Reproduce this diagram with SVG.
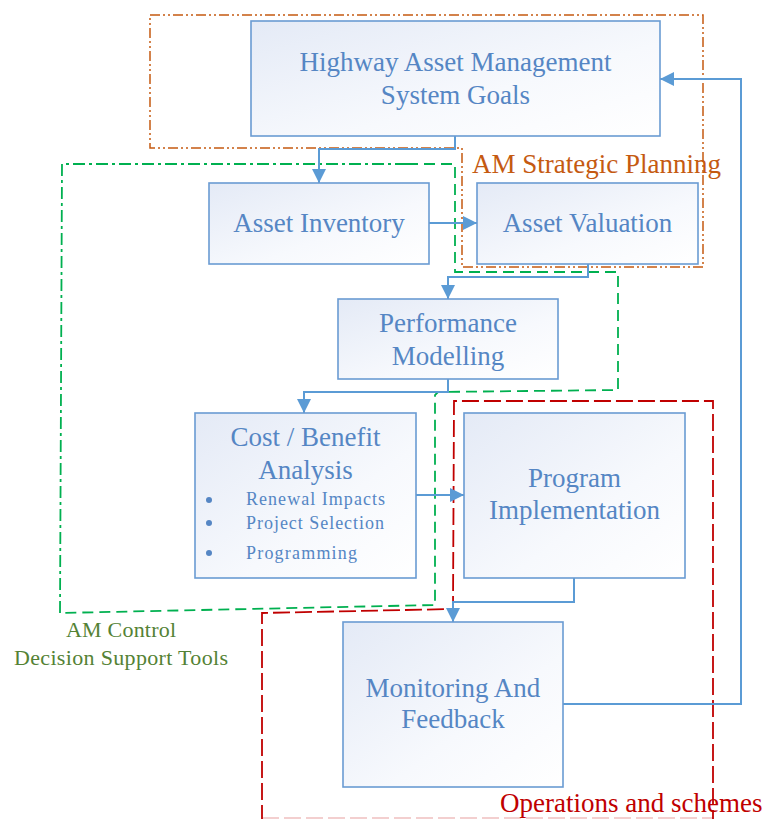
<svg xmlns="http://www.w3.org/2000/svg" width="768" height="819" viewBox="0 0 768 819">
<defs>
<linearGradient id="g" x1="0" y1="0" x2="1" y2="1">
<stop offset="0" stop-color="#E4EAF6"/>
<stop offset="0.6" stop-color="#F7F9FD"/>
<stop offset="1" stop-color="#FFFFFF"/>
</linearGradient>
<marker id="ah" markerUnits="userSpaceOnUse" markerWidth="15" markerHeight="15" refX="14" refY="7" orient="auto">
<path d="M0,0 L14,7 L0,14 z" fill="#5B9BD5"/>
</marker>
<style>
.box{fill:url(#g);stroke:#6A9BD3;stroke-width:1.6}
.t{font-family:"Liberation Serif","Times New Roman",serif;font-size:27px;fill:#5586C4;text-anchor:middle}
.s{font-family:"Liberation Serif","Times New Roman",serif;font-size:18px;fill:#5586C4}
.c{fill:none;stroke:#5B9BD5;stroke-width:2;marker-end:url(#ah)}
.dot{fill:#5586C4}
</style>
</defs>
<rect width="768" height="819" fill="#FFFFFF"/>

<g id="groups">
<path d="M150,15 H703 V267 H462 V148 H150 Z" fill="none" stroke="#C55A11" stroke-width="1.5" stroke-dasharray="10 3 2 3 2 3"/>
<path d="M407,164 H62 L60,613" fill="none" stroke="#00B050" stroke-width="1.8" stroke-dasharray="12 4 3 4"/>
<path d="M407,164 H455 V272 H618 V390 L438,392 L435,395 V605 L60,613" fill="none" stroke="#00B050" stroke-width="1.8" stroke-dasharray="11 6"/>
<path d="M262,822 V613 L453,609 L454,401 H713 V822" fill="none" stroke="#C00000" stroke-width="1.8" stroke-dasharray="17 5"/>
<path d="M262,818 H713" fill="none" stroke="#C00000" stroke-width="1.5" stroke-opacity="0.25" stroke-dasharray="17 5"/>
<text x="472" y="173" font-family="'Liberation Serif','Times New Roman',serif" font-size="27" fill="#C55A11">AM Strategic Planning</text>
<text x="121" y="637" font-family="'Liberation Serif','Times New Roman',serif" font-size="22" fill="#548235" text-anchor="middle" textLength="110">AM Control</text>
<text x="121" y="665" font-family="'Liberation Serif','Times New Roman',serif" font-size="22" fill="#548235" text-anchor="middle" textLength="214">Decision Support Tools</text>
<text x="500" y="812" font-family="'Liberation Serif','Times New Roman',serif" font-size="27" fill="#C00000">Operations and schemes</text>
</g>

<g id="connectors">
<path class="c" d="M455,136 V149 H319 V183"/>
<path class="c" d="M429,223 H477"/>
<path class="c" d="M588,264 V277 H448 V299"/>
<path class="c" d="M448,379 V392 H304 V413"/>
<path class="c" d="M416,495 H464"/>
<path class="c" d="M574,578 V602 H453 V622"/>
<path class="c" d="M563,704 H741 V79 H660"/>
</g>

<g id="goals">
<rect class="box" x="251" y="21" width="409" height="115"/>
<text class="t" x="455.5" y="71">Highway Asset Management</text>
<text class="t" x="455.5" y="104">System Goals</text>
</g>
<g id="inventory">
<rect class="box" x="209" y="183" width="220" height="81"/>
<text class="t" x="319" y="232">Asset Inventory</text>
</g>
<g id="valuation">
<rect class="box" x="477" y="183" width="221" height="81"/>
<text class="t" x="587.5" y="232">Asset Valuation</text>
</g>
<g id="performance">
<rect class="box" x="338" y="299" width="220" height="80"/>
<text class="t" x="448" y="332">Performance</text>
<text class="t" x="448" y="365">Modelling</text>
</g>
<g id="costbenefit">
<rect class="box" x="195" y="413" width="221" height="165"/>
<text class="t" x="305.5" y="446">Cost / Benefit</text>
<text class="t" x="305.5" y="479">Analysis</text>
<circle class="dot" cx="209" cy="500" r="3"/>
<circle class="dot" cx="209" cy="523" r="3"/>
<circle class="dot" cx="209" cy="553" r="3"/>
<text class="s" x="246" y="505" textLength="139">Renewal Impacts</text>
<text class="s" x="246" y="529" textLength="138">Project Selection</text>
<text class="s" x="246" y="559" textLength="111">Programming</text>
</g>
<g id="program">
<rect class="box" x="464" y="413" width="221" height="165"/>
<text class="t" x="574.5" y="487">Program</text>
<text class="t" x="574.5" y="519">Implementation</text>
</g>
<g id="monitoring">
<rect class="box" x="343" y="622" width="220" height="165"/>
<text class="t" x="453" y="697">Monitoring And</text>
<text class="t" x="453" y="728">Feedback</text>
</g>
</svg>
